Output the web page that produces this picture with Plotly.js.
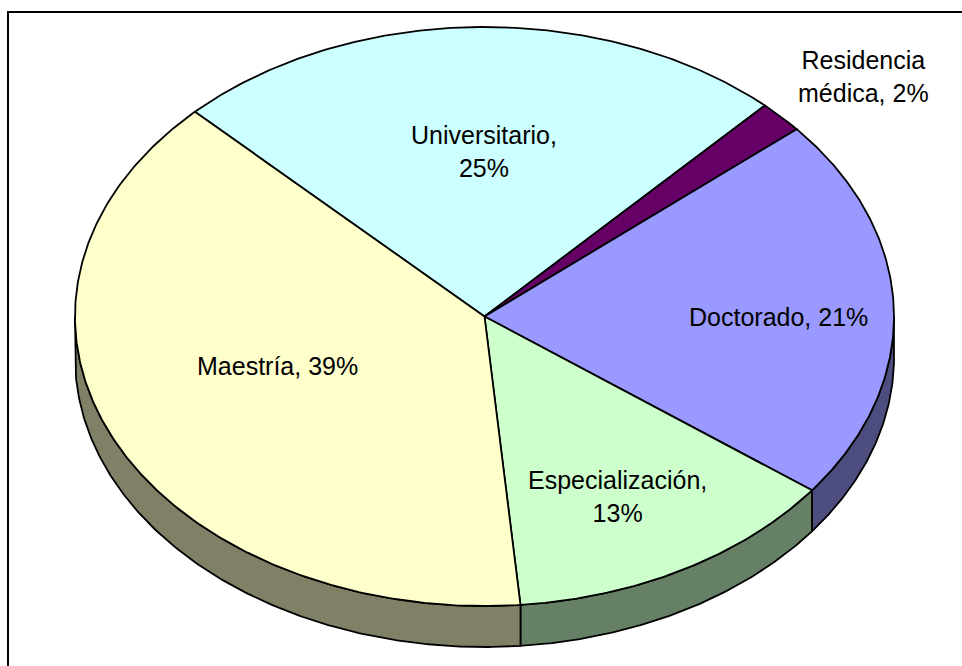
<!DOCTYPE html>
<html><head><meta charset="utf-8">
<script src="https://cdn.plot.ly/plotly-3.0.1.min.js"></script>
<style>html,body{margin:0;padding:0;background:#fff;overflow:hidden}</style>
</head><body><div id="chart" style="width:962px;height:666px"></div>
<script>
// Data
const categories = ["Universitario", "Residencia médica", "Doctorado", "Especialización", "Maestría"];
const percentages = [24.5, 1.8, 21.45, 13.35, 38.9];
const labelTexts = ["Universitario,<br>25%", "Residencia<br>médica, 2%", "Doctorado, 21%", "Especialización,<br>13%", "Maestría, 39%"];
const topColors = ["#CCFFFF", "#660066", "#9999FF", "#CCFFCC", "#FFFFCC"];
const sideColors = ["#668080", "#330033", "#4D4D80", "#668066", "#808066"];

// Geometry of the tilted disc, in pixels
const W = 962, H = 666, CX = 484.5, CY = 316.5, RX = 409.5, RY = 289.5, DEPTH = 41, START = 135;
const labelPx = [[484,151],[863,76],[778,317],[617,496],[277,366]];
const px = v => (v - CX) / RX, py = v => (CY - v) / RY;
const depthU = DEPTH / RY;
const rad = d => d * Math.PI / 180;

const traces = [];
const total = percentages.reduce((a, b) => a + b, 0);
const arcs = [];
let ang = START;
percentages.forEach(v => { const a0 = ang; ang -= v / total * 360; arcs.push([a0, ang]); });

function arcPts(a0, a1) {
  const n = Math.max(2, Math.ceil(Math.abs(a0 - a1) * 2));
  const xs = [], ys = [];
  for (let i = 0; i <= n; i++) {
    const t = rad(a0 + (a1 - a0) * i / n);
    xs.push(Math.cos(t)); ys.push(Math.sin(t));
  }
  return [xs, ys];
}
const line = {color: "#000", width: 1.8, shape: "linear"};

// Side walls: only the visible lower half of each slice's rim
arcs.forEach(([a0, a1], i) => {
  const hi = Math.min(a0, 0), lo = Math.max(a1, -180);
  if (hi <= lo) return;
  const [xs, ys] = arcPts(hi, lo);
  const x = xs.concat(xs.slice().reverse(), [xs[0]]);
  const y = ys.concat(ys.slice().reverse().map(v => v - depthU), [ys[0]]);
  traces.push({type: "scatter", mode: "lines", x, y, fill: "toself", fillcolor: sideColors[i],
    line, hoverinfo: "skip", showlegend: false});
});
// Top faces
arcs.forEach(([a0, a1], i) => {
  const [xs, ys] = arcPts(a0, a1);
  traces.push({type: "scatter", mode: "lines", name: categories[i],
    x: [0].concat(xs, [0]), y: [0].concat(ys, [0]), fill: "toself", fillcolor: topColors[i],
    line, hoverinfo: "name", showlegend: false});
});

const annotations = labelTexts.map((t, i) => ({
  x: px(labelPx[i][0]), y: py(labelPx[i][1]), xref: "x", yref: "y", text: t, showarrow: false,
  align: "center", font: {family: "Liberation Sans, Arial, sans-serif", size: 25, color: "#000"}
}));

const layout = {
  width: W, height: H, margin: {l: 0, r: 0, t: 0, b: 0},
  paper_bgcolor: "#fff", plot_bgcolor: "#fff", showlegend: false,
  xaxis: {range: [px(0), px(W)], visible: false, fixedrange: true},
  yaxis: {range: [py(H), py(0)], visible: false, fixedrange: true},
  annotations,
  shapes: [{type: "rect", xref: "paper", yref: "paper", x0: 8/W, x1: 1.1, y0: -0.1, y1: 1 - 12/H,
    line: {color: "#000", width: 2}, layer: "below"}]
};
Plotly.newPlot("chart", traces, layout, {displayModeBar: false, staticPlot: true});
</script></body></html>
